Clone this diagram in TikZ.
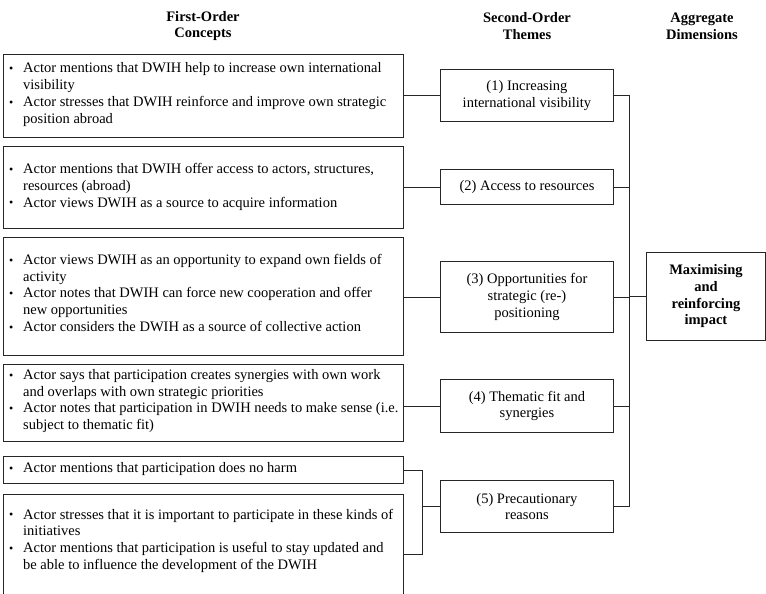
\documentclass[tikz,border=0pt]{standalone}
\usepackage{fontspec}
\setmainfont{Liberation Serif}
\newcommand\bul{\makebox[14pt][l]{\raisebox{0.3pt}{\fontsize{12}{12}\selectfont\textbullet}}}
\newcommand\ind{\hspace*{14pt}}
\newcommand\fs{\fontsize{14.5}{16.7}\selectfont}
\begin{document}
\begin{tikzpicture}[x=1pt,y=-1pt,
  box/.style={draw=black!85, line width=0.9pt, inner sep=0pt, anchor=north west, minimum width=400pt},
  txt/.style={align=left, anchor=west, inner sep=0pt, font=\fs},
  theme/.style={draw=black!85, line width=0.9pt, inner sep=0pt, anchor=north west, minimum width=173pt, align=center, font=\fs},
  agg/.style={draw=black!85, line width=0.9pt, inner sep=0pt, anchor=north west, minimum width=119pt, align=center, font=\fs\bfseries},
  head/.style={align=center, inner sep=0pt, font=\fs\bfseries},
  conn/.style={draw=black!85, line width=0.9pt}
]
\useasboundingbox (0,0) rectangle (766,594);

% headers
\node[head] (h1) at (203,26) {First-Order\\Concepts};
\node[head] (h2) at (527,26) {Second-Order\\Themes};
\node[head] (h3) at (702,26) {Aggregate\\Dimensions};

% first-order boxes
\node[box, minimum height=83pt] (c1) at (3,54) {};
\node[box, minimum height=82pt] (c2) at (3,146) {};
\node[box, minimum height=118pt] (c3) at (3,237) {};
\node[box, minimum height=77pt] (c4) at (3,364) {};
\node[box, minimum height=27pt] (c5) at (3,456) {};
\node[box, minimum height=120pt] (c6) at (3,494) {};

\node[txt] (t1) at (9,94.5) {\bul Actor mentions that DWIH help to increase own international\\\ind visibility\\\bul Actor stresses that DWIH reinforce and improve own strategic\\\ind position abroad};
\node[txt] (t2) at (9,187) {\bul Actor mentions that DWIH offer access to actors, structures,\\\ind resources (abroad)\\\bul Actor views DWIH as a source to acquire information};
\node[txt] (t3) at (9,293) {\bul Actor views DWIH as an opportunity to expand own fields of\\\ind activity\\\bul Actor notes that DWIH can force new cooperation and offer\\\ind new opportunities\\\bul Actor considers the DWIH as a source of collective action};
\node[txt] (t4) at (9,401) {\bul Actor says that participation creates synergies with own work\\\ind and overlaps with own strategic priorities\\\bul Actor notes that participation in DWIH needs to make sense (i.e.\\\ind subject to thematic fit)};
\node[txt] (t5) at (9,469.5) {\bul Actor mentions that participation does no harm};
\node[txt] (t6) at (9,540.5) {\bul Actor stresses that it is important to participate in these kinds of\\\ind initiatives\\\bul Actor mentions that participation is useful to stay updated and\\\ind be able to influence the development of the DWIH};

% second-order themes
\node[theme, minimum height=52pt] (s1) at (440,69) {(1) Increasing\\international visibility};
\node[theme, minimum height=35pt] (s2) at (440,169) {(2) Access to resources};
\node[theme, minimum height=71pt] (s3) at (440,261) {(3) Opportunities for\\strategic (re-)\\positioning};
\node[theme, minimum height=53pt] (s4) at (440,379) {(4) Thematic fit and\\synergies};
\node[theme, minimum height=52pt] (s5) at (440,480) {(5) Precautionary\\reasons};

% aggregate
\node[agg, minimum height=88pt] (a1) at (646,252) {Maximising\\and\\reinforcing\\impact};

% connectors first -> second
\draw[conn] (c1.east |- s1.west) -- (s1.west);
\draw[conn] (c2.east |- s2.west) -- (s2.west);
\draw[conn] (c3.east |- s3.west) -- (s3.west);
\draw[conn] (c4.east |- s4.west) -- (s4.west);
\coordinate (b5) at (422,0);
\draw[conn] (c5.east) -- (b5 |- c5.east) -- (b5 |- c6.east) -- (c6.east);
\draw[conn] (b5 |- s5.west) -- (s5.west);

% connectors second -> aggregate
\coordinate (bv) at (629,0);
\draw[conn] (s1.east) -- (bv |- s1.east) -- (bv |- s5.east) -- (s5.east);
\draw[conn] (s2.east) -- (bv |- s2.east);
\draw[conn] (s3.east) -- (bv |- s3.east);
\draw[conn] (s4.east) -- (bv |- s4.east);
\draw[conn] (bv |- a1.west) -- (a1.west);
\end{tikzpicture}
\end{document}
